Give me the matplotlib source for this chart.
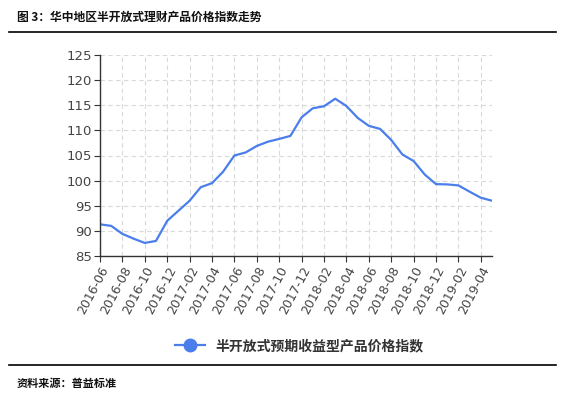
import matplotlib
matplotlib.use("Agg")
import matplotlib.pyplot as plt
from matplotlib.lines import Line2D

plt.rcParams['font.family'] = ['Noto Sans CJK SC', 'DejaVu Sans']

# monthly index, 2016-06 .. 2019-05
months = []
for y in range(2016, 2020):
    for m in range(1, 13):
        if (y == 2016 and m < 6) or (y == 2019 and m > 5):
            continue
        months.append(f"{y}-{m:02d}")

index_values = [91.3, 91.0, 89.4, 88.45, 87.6, 88.0, 92.0, 94.0, 96.0, 98.7,
                99.5, 101.8, 105.0, 105.6, 106.9, 107.75, 108.3, 108.9, 112.6, 114.4,
                114.8, 116.3, 114.85, 112.5, 110.9, 110.3, 108.1, 105.2, 103.9, 101.2,
                99.3, 99.25, 99.05, 97.8, 96.6, 96.0]

title = "图 3：华中地区半开放式理财产品价格指数走势"
series_name = "半开放式预期收益型产品价格指数"
source = "资料来源：普益标准"

W, H = 570, 398
fig = plt.figure(figsize=(W / 100, H / 100), dpi=100)
ax = fig.add_axes([100 / W, 1 - 256 / H, (492 - 100) / W, (256 - 55) / H])

x = list(range(len(months)))
line_color = '#4A7EEB'
ax.plot(x, index_values, color=line_color, lw=1.6, solid_joinstyle='round')

ax.set_xlim(0, len(months) - 1)
ax.set_ylim(85, 125)
ax.set_yticks(range(85, 126, 5))
ax.set_xticks(x[::2])
ax.set_xticklabels(months[::2], rotation=62, ha='right', rotation_mode='anchor',
                   fontsize=9, color='#444444', family='DejaVu Sans')
for lab in ax.get_yticklabels():
    lab.set_fontsize(9.5)
    lab.set_color('#444444')
    lab.set_family('DejaVu Sans')

ax.grid(True, color='#d9d9d9', ls=(0, (4, 3)), lw=0.8)
for s in ['top', 'right']:
    ax.spines[s].set_visible(False)
for s in ['left', 'bottom']:
    ax.spines[s].set_color('#333333')
    ax.spines[s].set_linewidth(1.0)
ax.tick_params(length=4, color='#333333', pad=2)

# title and rules
fig.text(17 / W, 1 - 17 / H, title, fontsize=8.5, fontweight='bold',
         va='center', ha='left', color='#111111')
fig.add_artist(Line2D([9 / W, 556 / W], [1 - 32 / H, 1 - 32 / H],
                      color='black', lw=1.2))
fig.add_artist(Line2D([9 / W, 556 / W], [1 - 365 / H, 1 - 365 / H],
                      color='black', lw=1.2))
fig.text(17 / W, 1 - 383 / H, source, fontsize=8, fontweight='bold',
         va='center', ha='left', color='#111111')

handle = Line2D([], [], color=line_color, lw=1.6, marker='o', markersize=9,
                markerfacecolor=line_color, markeredgecolor=line_color)
fig.legend([handle], [series_name], loc='center', bbox_to_anchor=(299 / W, 1 - 346 / H),
           frameon=False, prop={'size': 10, 'weight': 'bold'}, handlelength=2.2,
           handletextpad=0.7, labelcolor='#333333')

fig.savefig("out.png", dpi=100)
